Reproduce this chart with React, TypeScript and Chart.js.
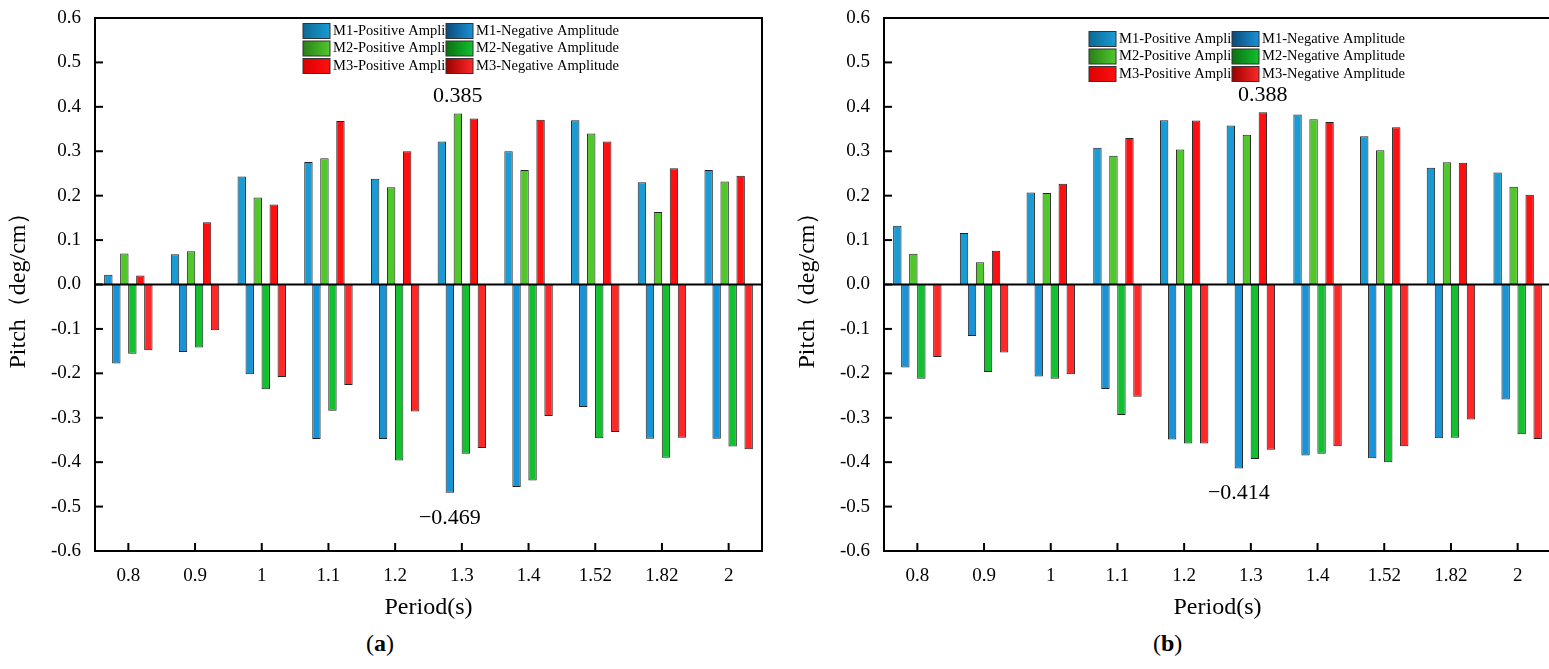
import React, { useEffect, useRef } from "react";
import { Chart, registerables } from "chart.js";
Chart.register(...registerables);

const categories = ["0.8", "0.9", "1", "1.1", "1.2", "1.3", "1.4", "1.52", "1.82", "2"];
const seriesNames = ["M1-Positive Amplitude", "M1-Negative Amplitude", "M2-Positive Amplitude", "M2-Negative Amplitude", "M3-Positive Amplitude", "M3-Negative Amplitude"];
const yTicks = [-0.6, -0.5, -0.4, -0.3, -0.2, -0.1, 0.0, 0.1, 0.2, 0.3, 0.4, 0.5, 0.6];

const aM1P = [0.022, 0.068, 0.243, 0.276, 0.238, 0.322, 0.300, 0.370, 0.230, 0.258];
const aM1N = [-0.178, -0.152, -0.202, -0.348, -0.348, -0.469, -0.456, -0.276, -0.347, -0.347];
const aM2P = [0.070, 0.075, 0.196, 0.284, 0.219, 0.385, 0.258, 0.340, 0.163, 0.232];
const aM2N = [-0.156, -0.142, -0.236, -0.284, -0.396, -0.381, -0.441, -0.346, -0.390, -0.365];
const aM3P = [0.020, 0.140, 0.180, 0.368, 0.300, 0.374, 0.371, 0.322, 0.262, 0.245];
const aM3N = [-0.148, -0.103, -0.208, -0.226, -0.286, -0.368, -0.296, -0.332, -0.345, -0.371];

const bM1P = [0.132, 0.116, 0.207, 0.308, 0.370, 0.358, 0.383, 0.334, 0.263, 0.252];
const bM1N = [-0.187, -0.116, -0.207, -0.235, -0.349, -0.414, -0.385, -0.391, -0.346, -0.259];
const bM2P = [0.069, 0.050, 0.206, 0.290, 0.304, 0.337, 0.372, 0.302, 0.275, 0.220];
const bM2N = [-0.212, -0.197, -0.212, -0.294, -0.358, -0.393, -0.381, -0.400, -0.345, -0.337];
const bM3P = [0.001, 0.076, 0.227, 0.330, 0.369, 0.388, 0.366, 0.354, 0.274, 0.202];
const bM3N = [-0.163, -0.153, -0.202, -0.253, -0.358, -0.372, -0.364, -0.364, -0.304, -0.348];

const colorPairs: [string, string][] = [
  ["#0c6a94", "#1a9bd4"],
  ["#0b4a78", "#1a92d6"],
  ["#2a8018", "#50c82c"],
  ["#0a7010", "#12c030"],
  ["#dd0000", "#ff1010"],
  ["#9a0000", "#ff2828"],
];

const FONT = "'Liberation Serif', 'DejaVu Serif', serif";

function grad(ctx: CanvasRenderingContext2D, x0: number, x1: number, c: [string, string]) {
  const g = ctx.createLinearGradient(x0, 0, x1, 0);
  g.addColorStop(0, c[0]);
  g.addColorStop(1, c[1]);
  return g;
}

function makeChart(canvas: HTMLCanvasElement, data: number[][], ann: { ds: number; idx: number; text: string; above: boolean }[], legendX: number, legendY: number) {
  const framePlugin = {
    id: "frame",
    afterDatasetsDraw(chart: any) {
      const { ctx, chartArea: a, scales } = chart;
      ctx.save();
      ctx.strokeStyle = "#000";
      ctx.lineWidth = 2;
      ctx.strokeRect(a.left, a.top, a.right - a.left, a.bottom - a.top);
      const y0 = scales.y.getPixelForValue(0);
      ctx.beginPath();
      ctx.moveTo(a.left, y0);
      ctx.lineTo(a.right, y0);
      ctx.stroke();
      yTicks.forEach((v) => {
        const y = scales.y.getPixelForValue(v);
        ctx.beginPath();
        ctx.moveTo(a.left, y);
        ctx.lineTo(a.left + 8, y);
        ctx.stroke();
      });
      categories.forEach((_, i) => {
        const x = scales.x.getPixelForValue(i);
        ctx.beginPath();
        ctx.moveTo(x, a.bottom);
        ctx.lineTo(x, a.bottom - 8);
        ctx.stroke();
      });
      ctx.fillStyle = "#000";
      ctx.font = `22px ${FONT}`;
      ctx.textAlign = "center";
      ann.forEach((an) => {
        const el = chart.getDatasetMeta(an.ds).data[an.idx];
        if (an.above) {
          ctx.textBaseline = "bottom";
          ctx.fillText(an.text, el.x, el.y - 6);
        } else {
          ctx.textBaseline = "top";
          ctx.fillText(an.text, el.x, el.y + 14);
        }
      });
      ctx.font = `14.5px ${FONT}`;
      ctx.textAlign = "left";
      ctx.textBaseline = "middle";
      ctx.lineWidth = 1;
      for (let s = 0; s < 6; s++) {
        const col = s % 2;
        const row = Math.floor(s / 2);
        const bx = legendX + col * 143;
        const by = legendY + row * 17.5;
        ctx.fillStyle = grad(ctx, bx, bx + 27, colorPairs[s]);
        ctx.fillRect(bx, by - 7.5, 27, 15);
        ctx.strokeStyle = "#333";
        ctx.strokeRect(bx, by - 7.5, 27, 15);
        ctx.fillStyle = "#000";
        ctx.fillText(chart.data.datasets[s].label, bx + 30, by);
      }
      ctx.restore();
    },
  };

  return new Chart(canvas, {
    type: "bar",
    data: {
      labels: categories,
      datasets: data.map((d, s) => ({
        label: seriesNames[s],
        data: d,
        borderColor: "#222",
        borderWidth: 1,
        borderSkipped: false,
        backgroundColor: (c: any) => {
          const el = c.element;
          const ctx = c.chart.ctx;
          if (!el || el.x === undefined || isNaN(el.x)) return colorPairs[s][1];
          const w = el.width || 10;
          return grad(ctx, el.x - w / 2, el.x + w / 2, colorPairs[s]);
        },
        categoryPercentage: 0.72,
        barPercentage: 1.05,
      })),
    },
    options: {
      animation: false,
      responsive: false,
      layout: { padding: { top: 18, right: 8 } },
      plugins: { legend: { display: false }, tooltip: { enabled: false } },
      scales: {
        x: {
          grid: { display: false },
          border: { display: false },
          ticks: { color: "#000", font: { size: 19, family: FONT }, padding: 6 },
          title: { display: true, text: "Period(s)", color: "#000", font: { size: 24, family: FONT }, padding: { top: 2 } },
          afterFit: (sc: any) => { sc.height = 75; },
        },
        y: {
          min: -0.6,
          max: 0.6,
          grid: { display: false },
          border: { display: false },
          afterBuildTicks: (sc: any) => { sc.ticks = yTicks.map((v) => ({ value: v })); },
          ticks: { color: "#000", font: { size: 19, family: FONT }, callback: (v: any) => Number(v).toFixed(1), padding: 6 },
          title: { display: true, text: "Pitch（deg/cm）", color: "#000", font: { size: 24, family: FONT }, padding: { bottom: 2 } },
          afterFit: (sc: any) => { sc.width = 95; },
        },
      },
    },
    plugins: [framePlugin],
  } as any);
}

export default function App() {
  const r1 = useRef<HTMLCanvasElement>(null);
  const r2 = useRef<HTMLCanvasElement>(null);
  useEffect(() => {
    const c1 = makeChart(r1.current!, [aM1P, aM1N, aM2P, aM2N, aM3P, aM3N],
      [{ ds: 2, idx: 5, text: "0.385", above: true }, { ds: 1, idx: 5, text: "\u22120.469", above: false }], 303, 31);
    const c2 = makeChart(r2.current!, [bM1P, bM1N, bM2P, bM2N, bM3P, bM3N],
      [{ ds: 4, idx: 5, text: "0.388", above: true }, { ds: 1, idx: 5, text: "\u22120.414", above: false }], 300, 39);
    return () => { c1.destroy(); c2.destroy(); };
  }, []);
  return (
    <div style={{ position: "fixed", left: 0, top: 0, width: 1549, height: 669, background: "#fff", fontFamily: FONT }}>
      <canvas ref={r1} width={770} height={626} style={{ position: "absolute", left: 0, top: 0 }} />
      <canvas ref={r2} width={770} height={626} style={{ position: "absolute", left: 789, top: 0 }} />
      <div style={{ position: "absolute", left: 366, top: 630, fontSize: 24 }}>(<b>a</b>)</div>
      <div style={{ position: "absolute", left: 1153, top: 630, fontSize: 24 }}>(<b>b</b>)</div>
    </div>
  );
}
